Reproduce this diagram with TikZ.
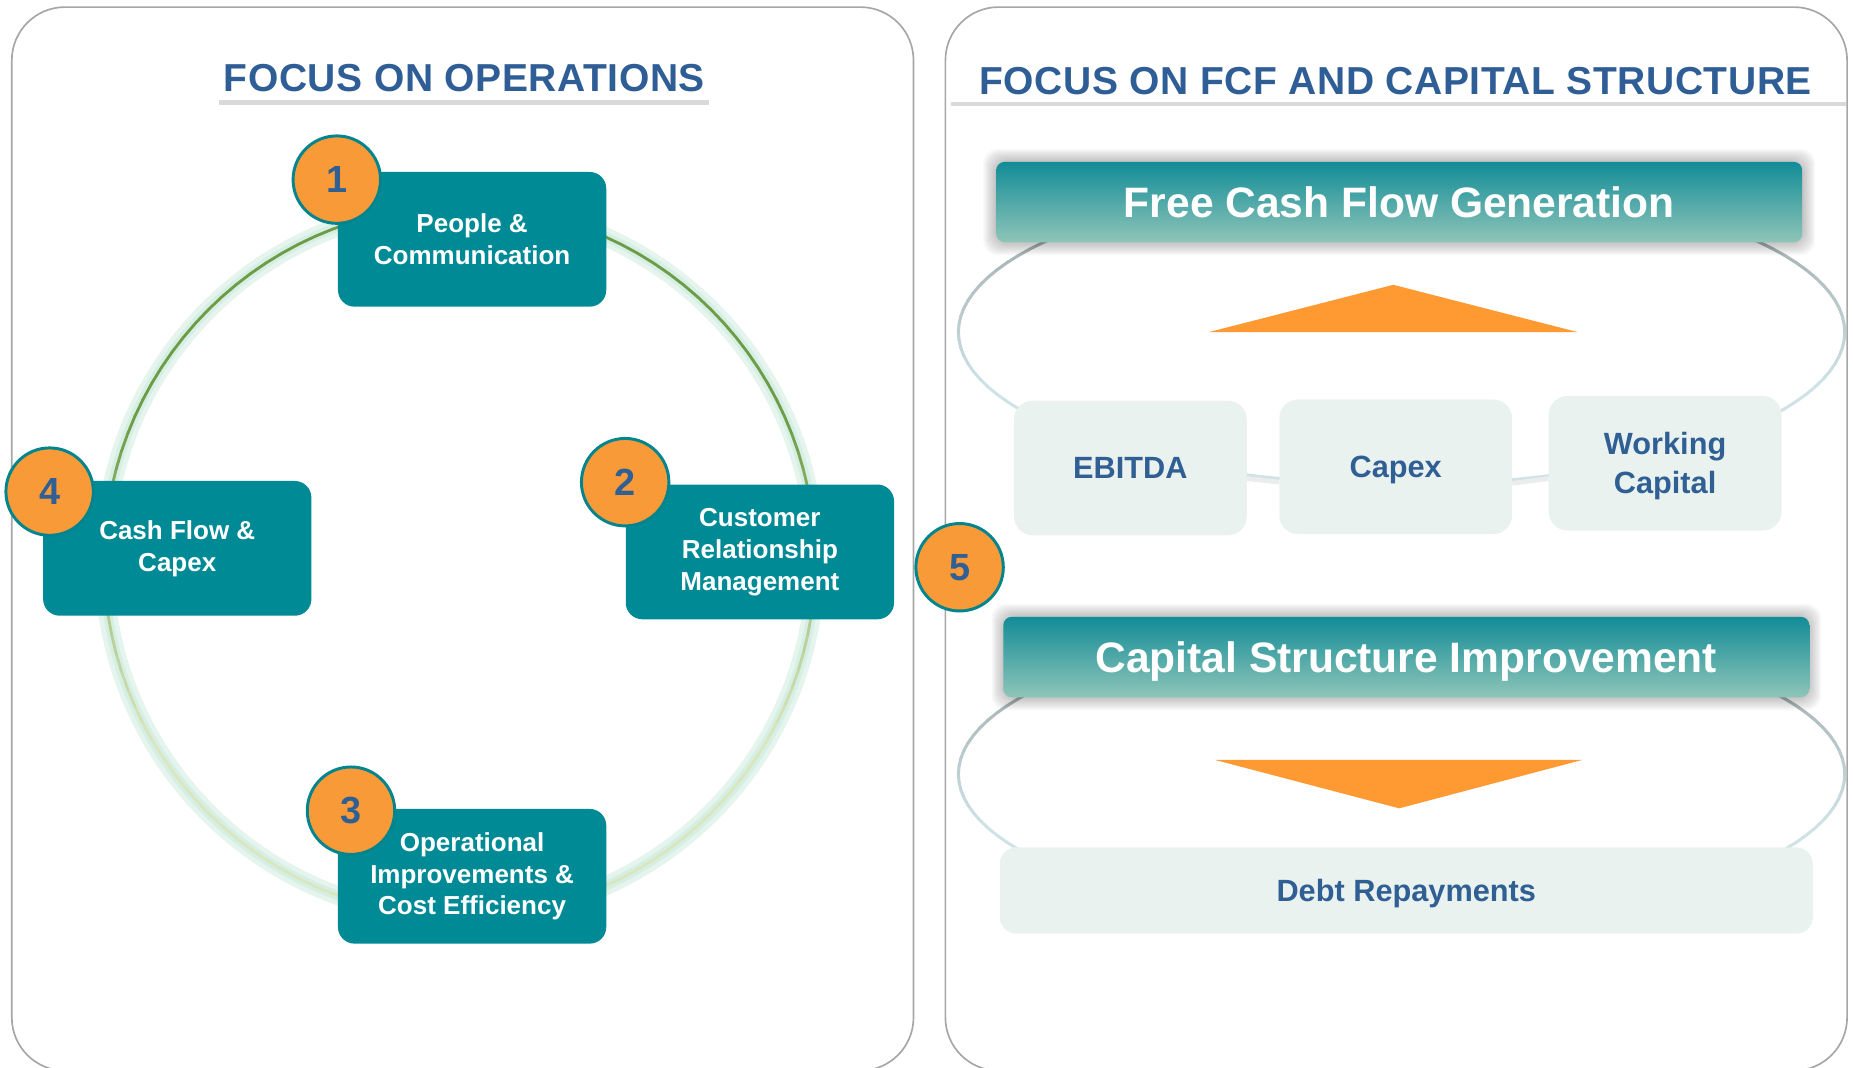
\documentclass[tikz,border=0pt]{standalone}
\usepackage{fontspec}
\setmainfont{Liberation Sans}
\newfontfamily\titlefont[LetterSpace=1.5]{Liberation Sans}
\definecolor{panelgray}{HTML}{A6A6A6}
\definecolor{titleblue}{HTML}{2F5E97}
\definecolor{rulegray}{HTML}{D9D9D9}
\definecolor{opsteal}{HTML}{008A96}
\definecolor{badgeteal}{HTML}{00858F}
\definecolor{badgeorange}{HTML}{F89A37}
\definecolor{numblue}{HTML}{305F94}
\definecolor{ringdark}{HTML}{6E9B45}
\definecolor{ringpale}{HTML}{DCE6BE}
\definecolor{ringglow}{HTML}{CBEBDD}
\definecolor{ovaldark}{HTML}{A3AFB1}
\definecolor{ovallight}{HTML}{CFE3E7}
\definecolor{hdrtop}{HTML}{128C97}
\definecolor{hdrbottom}{HTML}{8FC5B8}
\definecolor{itemfill}{HTML}{EAF2EF}
\definecolor{linkgray}{HTML}{EBEDED}
\definecolor{arroworange}{HTML}{FF9A33}

\begin{document}
\begin{tikzpicture}[x=1pt, y=-1pt,
    panel/.style={draw=panelgray, line width=1.4pt, rounded corners=45pt},
    paneltitle/.style={text=titleblue, inner sep=0pt, font=\titlefont\fontsize{33}{33}\selectfont\bfseries},
    titlerule/.style={draw=rulegray, line width=4pt},
    opsbox/.style={fill=opsteal, rounded corners=14pt, minimum width=227pt, minimum height=114pt, inner sep=0pt, align=center, text=white, font=\fontsize{22}{27}\selectfont\bfseries},
    numbadge/.style={circle, draw=badgeteal, line width=2.5pt, fill=badgeorange, minimum size=74pt, inner sep=0pt, text=numblue, font=\fontsize{32}{32}\selectfont\bfseries},
    fcfhead/.style={rounded corners=7pt, top color=hdrtop, bottom color=hdrbottom, minimum width=682pt, minimum height=68pt, inner sep=0pt, text depth=0pt, text=white, font=\fontsize{36}{36}\selectfont\bfseries},
    itembox/.style={fill=itemfill, rounded corners=16pt, minimum width=197pt, minimum height=114pt, inner sep=0pt, text depth=0pt, align=center, text=numblue, font=\fontsize{26}{33}\selectfont\bfseries},
    linkline/.style={draw=linkgray, line width=4pt},
    flowtri/.style={fill=arroworange}
]
    \useasboundingbox (0,0) rectangle (1568,903);

    % Two panels
    \draw[panel] (10,6) rectangle (773,906);
    \draw[panel] (800,6) rectangle (1563,906);

    % Panel titles
    \node[paneltitle] (opstitle) at (393,66) {FOCUS ON OPERATIONS};
    \draw[titlerule] (185,87) -- (600,87);
    \node[paneltitle] (captitle) at (1181,69) {FOCUS ON FCF AND CAPITAL STRUCTURE};
    \draw[titlerule] (805,88) -- (1562,88);

    % Cycle ring with glow
    \draw[ringglow, line width=16pt, opacity=0.5] (389,475) circle [radius=301];
    \draw[ringglow, line width=8pt, opacity=0.6] (389,475) circle [radius=301];
    \foreach \a in {0,3,...,357}{
        \pgfmathsetmacro\p{max(0,min(100,110*(0.5-sin(\a+1.5))))}
        \draw[ringdark!\p!ringpale, line width=2.4pt, line cap=round]
            ({389+301*cos(\a)},{475+301*sin(\a)}) -- ({389+301*cos(\a+3)},{475+301*sin(\a+3)});
    }

    % Operations boxes
    \node[opsbox] (people) at (399.5,202.5) {People \&\\Communication};
    \node[opsbox] (crm) at (643,467) {Customer\\Relationship\\Management};
    \node[opsbox] (opex) at (399.5,741.5) {Operational\\Improvements \&\\Cost Efficiency};
    \node[opsbox] (cashflow) at (150,464) {Cash Flow \&\\Capex};

    % Numbered badges
    \node[numbadge] (b1) at (285,152) {1};
    \node[numbadge] (b2) at (529,408) {2};
    \node[numbadge] (b3) at (297,686) {3};
    \node[numbadge] (b4) at (42,416) {4};

    % Ovals behind the headers
    \foreach \cy/\ry in {281/129, 655/127}{
        \foreach \a in {0,3,...,357}{
            \pgfmathsetmacro\p{max(0,min(100,100*(0.35-sin(\a+1.5))))}
            \draw[ovaldark!\p!ovallight, line width=2.6pt, line cap=round]
                ({1186+375*cos(\a)},{\cy+\ry*sin(\a)}) -- ({1186+375*cos(\a+3)},{\cy+\ry*sin(\a+3)});
        }
    }

    % Header shadows
    \foreach \g in {1,...,11}{
        \fill[black, opacity=0.024, rounded corners=12pt] (843-\g,137-\g) rectangle (1525+\g,205+\g);
        \fill[black, opacity=0.024, rounded corners=12pt] (850-\g,522-\g) rectangle (1530+\g,590+\g);
    }

    % Headers
    \node[fcfhead] (fcf) at (1184,171) {Free Cash Flow Generation};
    \node[fcfhead] (csi) at (1190,556) {Capital Structure Improvement};

    % Arrows up and down
    \fill[flowtri] (1023,281) -- (1179,241) -- (1335,281) -- cycle;
    \fill[flowtri] (1028,643) -- (1339,643) -- (1184,684) -- cycle;

    % Drivers
    \node[itembox] (ebitda) at (956.5,396) {EBITDA};
    \node[itembox] (capex) at (1181,395) {Capex};
    \node[itembox] (wc) at (1409,392) {Working\\Capital};
    \draw[linkline] ([yshift=-9pt]ebitda.east) -- ([yshift=-13pt]capex.west);
    \draw[linkline] ([yshift=-14pt]capex.east) -- ([yshift=-13pt]wc.west);

    \node[itembox, minimum width=688pt, minimum height=73pt, rounded corners=14pt] (debt) at (1190,753.5) {Debt Repayments};

    \node[numbadge] (b5) at (812,480) {5};
\end{tikzpicture}
\end{document}
